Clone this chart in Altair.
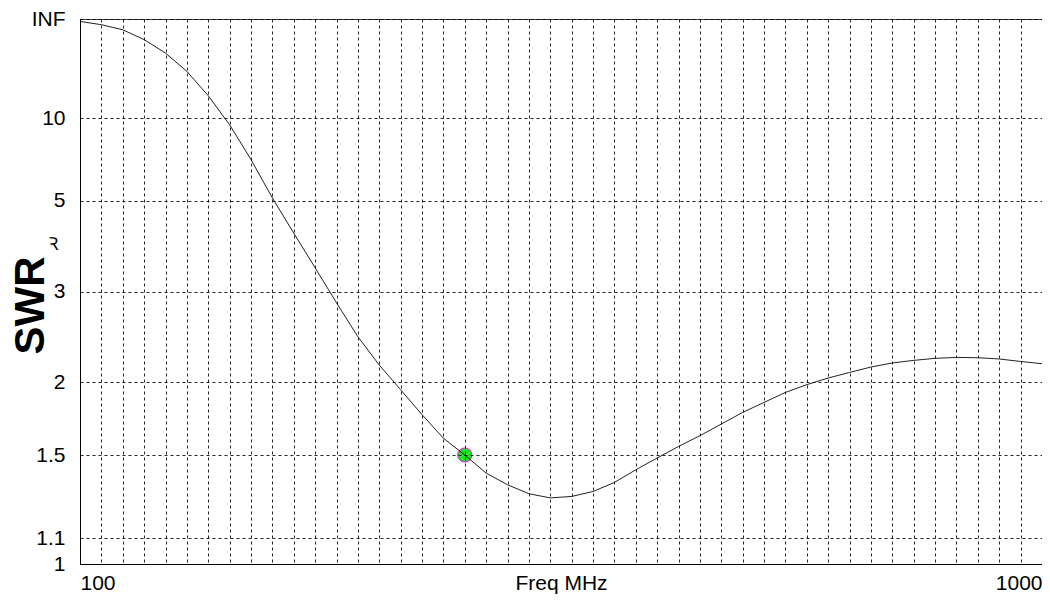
import altair as alt
import pandas as pd

# ---- data ----
freq_mhz = [100, 120, 140, 160, 180, 200, 220, 240, 260, 280,
            300, 320, 340, 360, 380, 400, 420, 440, 460, 480,
            500, 520, 540, 560, 580, 600, 620, 640, 660, 680,
            700, 720, 740, 760, 780, 800, 820, 840, 860, 880,
            900, 920, 940, 960, 980, 1000]
swr_values = [450, 190, 100, 52, 31, 19.8, 13.2, 9.3, 6.75, 5.09,
              4.09, 3.38, 2.84, 2.43, 2.15, 1.94, 1.755, 1.60, 1.50, 1.40,
              1.34, 1.296, 1.276, 1.283, 1.307, 1.352, 1.418, 1.483, 1.55, 1.616,
              1.691, 1.771, 1.843, 1.919, 1.981, 2.036, 2.084, 2.132, 2.169, 2.193,
              2.212, 2.221, 2.218, 2.206, 2.183, 2.162]
marker_freq = [460]
marker_swr = [1.5]

freq_grid = [100, 120, 140, 160, 180, 200, 220, 240, 260, 280,
             300, 320, 340, 360, 380, 400, 420, 440, 460, 480,
             500, 520, 540, 560, 580, 600, 620, 640, 660, 680,
             700, 720, 740, 760, 780, 800, 820, 840, 860, 880,
             900, 920, 940, 960, 980, 1000]
swr_ticks = [1, 1.1, 1.5, 2, 3, 5, 10]   # plus INF at the top

# the SWR axis is linear in reflection coefficient rho = (SWR-1)/(SWR+1)
rho_ticks = [(s - 1) / (s + 1) for s in swr_ticks] + [1.0]

curve = pd.DataFrame({"freq": freq_mhz, "swr": swr_values})
marker = pd.DataFrame({"freq": marker_freq, "swr": marker_swr})

FONT = "Liberation Sans"
RHO = "(datum.swr - 1) / (datum.swr + 1)"

x_enc = alt.X(
    "freq:Q",
    scale=alt.Scale(domain=[100, 1000], nice=False, zero=False),
    axis=alt.Axis(
        values=freq_grid,
        format="d",
        labelExpr="datum.value == 100 || datum.value == 1000 ? datum.label : ''",
        labelFlush=True,
        labelOverlap=False,
        ticks=False,
        tickSize=0,
        labelPadding=25,
        labelBaseline="alphabetic",
        labelFont=FONT,
        labelFontSize=21,
        labelColor="#000",
        title="Freq MHz",
        titleFont=FONT,
        titleFontSize=21,
        titleFontWeight="normal",
        titleColor="#000",
        titleY=25,
        titleBaseline="alphabetic",
        grid=True,
        gridDash=[3, 3],
        gridColor="#000",
        gridOpacity=0.85,
        gridWidth=1,
        domainColor="#000",
        domainWidth=1,
        zindex=1,
    ),
)

y_enc = alt.Y(
    "rho:Q",
    scale=alt.Scale(domain=[0, 1], nice=False, zero=False),
    axis=alt.Axis(
        values=rho_ticks,
        labelExpr="datum.value >= 0.9999 ? 'INF' : format((1 + datum.value) / (1 - datum.value), '.2~f')",
        labelFlush=False,
        labelOverlap=False,
        ticks=False,
        tickSize=0,
        labelPadding=15,
        labelBaseline="middle",
        labelFont=FONT,
        labelFontSize=21,
        labelColor="#000",
        title="SWR",
        titleFont=FONT,
        titleFontSize=42,
        titleFontWeight="bold",
        titleColor="#000",
        titleAngle=270,
        titleAlign="center",
        titleBaseline="middle",
        titleX=-50,
        titleY=286,
        grid=True,
        gridDash=[3, 3],
        gridColor="#000",
        gridOpacity=0.85,
        gridWidth=1,
        domainColor="#000",
        domainWidth=1,
        zindex=1,
    ),
)

dot = (
    alt.Chart(marker)
    .transform_calculate(rho=RHO)
    .mark_circle(color="#1ee61e", stroke="#ee00ee", strokeWidth=1, size=200, opacity=1)
    .encode(x=x_enc, y=y_enc)
)

line = (
    alt.Chart(curve)
    .transform_calculate(rho=RHO)
    .mark_line(color="#222222", strokeWidth=1)
    .encode(x=x_enc, y=y_enc)
)

glyph = (
    alt.Chart(marker)
    .mark_text(text="Ꝛ", font="DejaVu Sans", fontSize=18, color="#000")
    .encode(x=alt.value(-27), y=alt.value(226))
)

chart = (
    alt.layer(dot, line, glyph)
    .properties(
        width=962,
        height=545,
        autosize=alt.AutoSizeParams(type="none"),
        padding={"left": 72, "top": 11, "right": 0, "bottom": 30},
        background="white",
    )
    .configure_view(stroke="#444444", strokeWidth=1)
)

chart.save("out.html", embed_options={"renderer": "svg", "actions": False})
